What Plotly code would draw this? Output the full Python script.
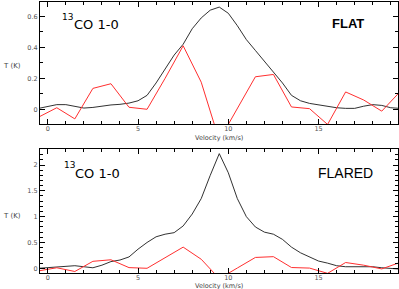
import plotly.graph_objects as go

W, H = 399, 289

# ---- data ----
vel_model = [-0.5, 0.0, 0.5, 1.0, 1.5, 2.0, 2.5, 3.0, 3.5, 4.0, 4.5, 5.0, 5.5, 6.0, 6.5,
             7.0, 7.5, 8.0, 8.5, 9.0, 9.5, 10.0, 10.5, 11.0, 11.5, 12.0, 12.5, 13.0,
             13.5, 14.0, 14.5, 15.0, 15.5, 16.0, 16.5, 17.0, 17.5, 18.0, 18.5, 19.0, 19.5]
model_flat = [0.006, 0.02, 0.03, 0.03, 0.02, 0.008, 0.012, 0.022, 0.028, 0.032, 0.04,
              0.055, 0.09, 0.17, 0.26, 0.35, 0.42, 0.52, 0.59, 0.64, 0.66, 0.62, 0.54,
              0.45, 0.38, 0.31, 0.24, 0.17, 0.09, 0.055, 0.038, 0.028, 0.02, 0.01,
              0.006, 0.006, 0.02, 0.03, 0.025, 0.01, 0.006]
model_flared = [0.0, 0.01, 0.025, 0.035, 0.05, 0.03, 0.01, 0.06, 0.13, 0.16, 0.22, 0.37,
                0.5, 0.61, 0.66, 0.69, 0.82, 1.05, 1.35, 1.8, 2.22, 1.85, 1.35, 1.0, 0.8,
                0.7, 0.66, 0.56, 0.41, 0.3, 0.22, 0.14, 0.1, 0.05, 0.03, 0.03, 0.03, 0.03,
                0.01, 0.0, -0.015]

vel_obs = [-0.5, 0.5, 1.5, 2.5, 3.5, 4.5, 5.5, 6.5, 7.5, 8.5, 9.5, 10.5, 11.5, 12.5,
           13.5, 14.5, 15.5, 16.5, 17.5, 18.5, 19.5]
obs = [-0.05, 0.01, -0.062, 0.135, 0.165, 0.013, 0.0, 0.2, 0.41, 0.175, -0.2, 0.005,
       0.21, 0.225, 0.015, 0.004, -0.098, 0.112, 0.06, -0.012, 0.112]

x_ticks = [0, 5, 10, 15]
y_ticks_flat = [0, 0.2, 0.4, 0.6]
y_ticks_flared = [0, 0.5, 1, 1.5, 2]
panel_titles = ["FLAT", "FLARED"]
line_label = "CO 1-0"
isotope = "13"
x_title = "Velocity (km/s)"
y_title = "T (K)"

BLACK = "#1a1a1a"
RED = "#ff2f2f"
TICKFONT = dict(family="DejaVu Sans", size=6.5, color="#555555")

def px(x):
    return x / W

def py(y):
    return 1 - y / H

fig = go.Figure()
fig.add_trace(go.Scatter(x=vel_model, y=model_flat, mode="lines",
                         line=dict(color=BLACK, width=0.9), xaxis="x", yaxis="y",
                         showlegend=False))
fig.add_trace(go.Scatter(x=vel_obs, y=obs, mode="lines",
                         line=dict(color=RED, width=1), xaxis="x", yaxis="y",
                         showlegend=False))
fig.add_trace(go.Scatter(x=vel_model, y=model_flared, mode="lines",
                         line=dict(color=BLACK, width=0.9), xaxis="x2", yaxis="y2",
                         showlegend=False))
fig.add_trace(go.Scatter(x=vel_obs, y=obs, mode="lines",
                         line=dict(color=RED, width=1), xaxis="x2", yaxis="y2",
                         showlegend=False))

xdom = [px(40), px(398)]
xrange = [-0.43, 19.4]

def xaxis(anchor):
    return dict(domain=xdom, range=xrange, anchor=anchor, tickmode="array",
                tickvals=x_ticks, ticktext=[str(t) for t in x_ticks],
                ticks="inside", ticklen=5, tickcolor="black", tickwidth=1,
                minor=dict(dtick=1, tick0=0, ticks="inside", ticklen=3,
                           tickcolor="black"),
                showline=True, linecolor="black", linewidth=1, mirror="allticks",
                showgrid=False, zeroline=False, tickfont=TICKFONT,
                ticklabelstandoff=-2)

def yaxis(anchor, dom, rng, tv, minor_dt):
    return dict(domain=dom, range=rng, anchor=anchor, tickmode="array",
                tickvals=tv, ticktext=[("%g" % t) for t in tv],
                ticks="inside", ticklen=5, tickcolor="black", tickwidth=1,
                minor=dict(dtick=minor_dt, tick0=0, ticks="inside", ticklen=3,
                           tickcolor="black"),
                showline=True, linecolor="black", linewidth=1, mirror="allticks",
                showgrid=False, zeroline=False, tickfont=TICKFONT)

fig.update_layout(
    width=W, height=H, margin=dict(l=0, r=0, t=0, b=0),
    paper_bgcolor="white", plot_bgcolor="white",
    xaxis=xaxis("y"),
    yaxis=yaxis("x", [py(124), py(1.5)], [-0.095, 0.696], y_ticks_flat, 0.1),
    xaxis2=xaxis("y2"),
    yaxis2=yaxis("x2", [py(273.3), py(149.3)], [-0.097, 2.304], y_ticks_flared, 0.1),
)

ann = []
def text(x, y, s, size, xanchor="left", bold=False, color="black", family="DejaVu Sans"):
    ann.append(dict(x=px(x), y=py(y), xref="paper", yref="paper", text=("<b>%s</b>" % s) if bold else s,
                    showarrow=False, xanchor=xanchor, yanchor="middle",
                    font=dict(family=family, size=size, color=color)))

# top panel labels
text(60, 17, isotope, 9)
text(72, 24.5, line_label, 13)
text(347.5, 23.5, panel_titles[0], 13, xanchor="center", bold=True, family="Liberation Sans")
# bottom panel labels
text(62, 165, isotope, 9)
text(73, 173, line_label, 13)
text(345.5, 172.5, panel_titles[1], 14, xanchor="center", family="Liberation Sans")
# axis titles
text(219, 137.5, x_title, 6.5, xanchor="center", color="#444444")
text(219, 285.5, x_title, 6.5, xanchor="center", color="#444444")
text(1, 66.5, y_title, 7, xanchor="left", color="#444444")
text(1, 215.5, y_title, 7, xanchor="left", color="#444444")

fig.update_layout(annotations=ann)
fig.write_html("out.html", config={"displayModeBar": False},
               post_script="document.body.style.margin='0';document.body.style.overflow='hidden';")
